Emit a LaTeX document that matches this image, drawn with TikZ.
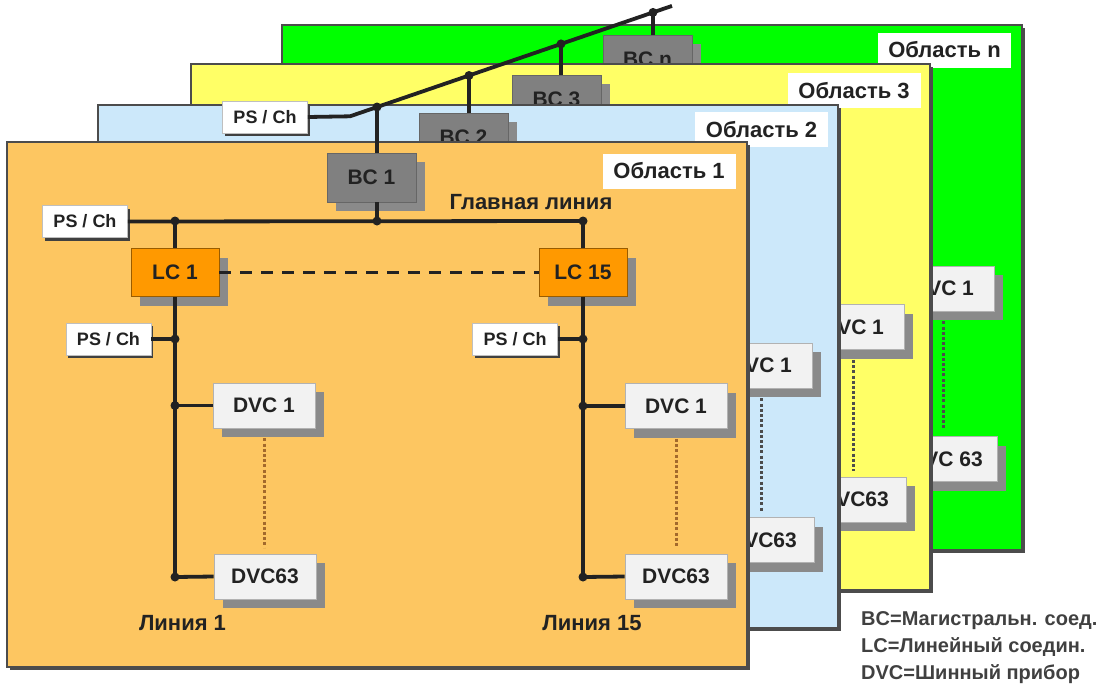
\documentclass[tikz,border=0pt]{standalone}
\usepackage{fontspec}
\setmainfont{Liberation Sans}
\usetikzlibrary{shadows}
\definecolor{areaone}{HTML}{FDC661}
\definecolor{areatwo}{HTML}{CCE8FA}
\definecolor{areathree}{HTML}{FFFF66}
\definecolor{arean}{HTML}{00FF00}
\definecolor{lcorange}{HTML}{FF9900}
\definecolor{bcgray}{HTML}{808080}
\definecolor{shadegray}{HTML}{8A8A8A}
\definecolor{devwhite}{HTML}{F2F2F2}
\definecolor{inkgray}{HTML}{222222}
\definecolor{dotbrown}{HTML}{A3692C}

\begin{document}
\begin{tikzpicture}[
  x=1pt, y=-1pt,
  every node/.style={text=inkgray},
  area/.style={draw=black!70, line width=1.4pt,
    drop shadow={shadow xshift=3pt, shadow yshift=-3pt, fill=black!70, opacity=1}},
  arealabel/.style={fill=white, minimum width=133pt, minimum height=35pt, inner sep=0pt,
    font=\bfseries\fontsize{22}{26}\selectfont},
  box/.style={minimum height=45pt, inner sep=0pt, line width=0.8pt,
    font=\bfseries\fontsize{21}{25}\selectfont,
    drop shadow={shadow xshift=9pt, shadow yshift=-9pt, fill=shadegray, opacity=1}},
  dvc/.style={box, draw=gray!60, fill=devwhite, minimum width=102pt},
  lc/.style={box, draw=lcorange!60!black, fill=lcorange, minimum width=88pt, minimum height=48pt},
  bc/.style={box, draw=black!60, fill=bcgray, minimum width=89pt, minimum height=49pt},
  psch/.style={draw=gray!50, fill=white, minimum width=85pt, minimum height=32pt,
    inner sep=0pt, line width=0.8pt, font=\bfseries\fontsize{18}{22}\selectfont,
    drop shadow={shadow xshift=2pt, shadow yshift=-3pt, fill=black!75, opacity=1}},
  bus/.style={line width=3.8pt, draw=inkgray},
  devdots/.style={line width=3pt, dash pattern=on 3pt off 2.2pt,
    shorten <=10pt, shorten >=6pt},
  linelabel/.style={font=\bfseries\fontsize{22}{26}\selectfont},
  legend/.style={align=left, inner sep=0pt, text=black!75,
    font=\bfseries\fontsize{20}{27}\selectfont},
]
\useasboundingbox (0,0) rectangle (1115,691);

% Область n
\draw[area, fill=arean] (282,25) rectangle (1022,550);
\node[arealabel] (lbln) at (944.5,50) {Область n};
\node[bc] (bcn) at (647.5,59.5) {BC n};
\node[dvc] (dvcna) at (943,288.5) {DVC 1};
\node[dvc] (dvcnb) at (946,459) {DVC 63};
\draw[devdots, draw=black!70] (dvcna.south) -- (dvcna.south |- dvcnb.north);

% Область 3
\draw[area, fill=areathree] (191,64) rectangle (930,590);
\node[arealabel] (lbl3) at (854,90.5) {Область 3};
\node[bc] (bc3) at (556.5,99.5) {BC 3};
\node[dvc] (dvc3a) at (853,327) {DVC 1};
\node[dvc] (dvc3b) at (855,499.5) {DVC63};
\draw[devdots, draw=black!70] (dvc3a.south) -- (dvc3a.south |- dvc3b.north);

% Область 2
\draw[area, fill=areatwo] (98,105) rectangle (838,628);
\node[arealabel] (lbl2) at (761.5,129.5) {Область 2};
\node[bc] (bc2) at (463.5,137.5) {BC 2};
\node[dvc] (dvc2a) at (761,365.5) {DVC 1};
\node[dvc] (dvc2b) at (763,540) {DVC63};
\draw[devdots, draw=black!70] (dvc2a.south) -- (dvc2a.south |- dvc2b.north);

% Область 1
\draw[area, fill=areaone] (7,142) rectangle (747,667);
\node[arealabel] (lbl1) at (669,171) {Область 1};
\node[bc] (bc1) at (371.5,177.5) {BC 1};
\node[psch] (ps0) at (85,221.5) {PS / Ch};
\node[linelabel] (mainlbl) at (531,202) {Главная линия};
\node[lc] (lc1) at (175,272.5) {LC 1};
\node[lc] (lc15) at (583,272.5) {LC 15};
\node[psch] (ps1) at (108.5,339) {PS / Ch};
\node[psch] (ps15) at (515,339) {PS / Ch};
\node[dvc] (dvc1a) at (264,405.5) {DVC 1};
\node[dvc] (dvc1b) at (265,576.5) {DVC63};
\node[dvc] (dvc15a) at (676,406) {DVC 1};
\node[dvc] (dvc15b) at (676,576.5) {DVC63};
\node[linelabel] (line1) at (182.5,623) {Линия 1};
\node[linelabel] (line15) at (592,623) {Линия 15};

\coordinate (m1) at (175,221);
\coordinate (m2) at (377,221);
\coordinate (m3) at (583,221);
\coordinate (end1) at (175,577);
\coordinate (end15) at (583,577);

\draw[bus] (ps0.east) -- (m3);
\draw[bus] (bc1.south -| m2) -- (m2);
\draw[bus] (m1) -- (lc1.north);
\draw[bus] (m3) -- (lc15.north);
\draw[bus, dash pattern=on 12pt off 9pt] (lc1.east) -- (lc15.west);
\draw[bus] (lc1.south) -- (end1);
\draw[bus] (lc15.south) -- (end15);
\draw[bus] (ps1.east) -- (ps1.east -| lc1);
\draw[bus] (ps15.east) -- (ps15.east -| lc15);
\draw[bus] (dvc1a.west -| lc1) -- (dvc1a.west);
\draw[bus] (end1) -- (dvc1b.west);
\draw[bus] (dvc15a.west -| lc15) -- (dvc15a.west);
\draw[bus] (end15) -- (dvc15b.west);
\draw[devdots, draw=dotbrown] (dvc1a.south) -- (dvc1a.south |- dvc1b.north);
\draw[devdots, draw=dotbrown] (dvc15a.south) -- (dvc15a.south |- dvc15b.north);

\foreach \p in {m1, m2, m3, end1, end15, {ps1.east -| lc1}, {ps15.east -| lc15},
  {dvc1a.west -| lc1}, {dvc15a.west -| lc15}}
  \fill[inkgray] (\p) circle (4.5pt);

% Магистраль
\node[psch] (psbb) at (265,117) {PS / Ch};
\coordinate (bb0) at (350,116.3);
\coordinate (j1) at (377,107);
\coordinate (j2) at (469,75.5);
\coordinate (j3) at (561,43.9);
\coordinate (j4) at (653,12.4);
\coordinate (bbend) at (672,5.9);

\draw[bus] (psbb.east) -- (bb0) -- (bbend);
\draw[bus] (j1) -- (j1 |- bc1.north);
\draw[bus] (j2) -- (j2 |- bc2.north);
\draw[bus] (j3) -- (j3 |- bc3.north);
\draw[bus] (j4) -- (j4 |- bcn.north);
\foreach \p in {j1, j2, j3, j4}
  \fill[inkgray] (\p) circle (4.5pt);

\node[legend, anchor=north west] (legend) at (861,611)
  {BC=Магистральн. соед.\\LC=Линейный соедин.\\DVC=Шинный прибор};

\end{tikzpicture}
\end{document}
